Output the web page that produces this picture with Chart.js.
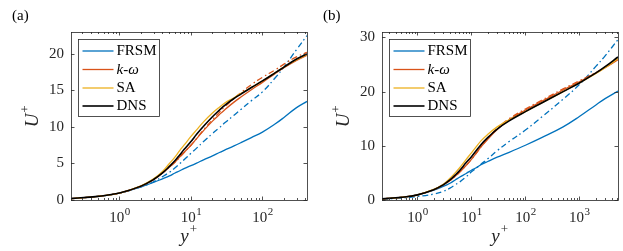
<!DOCTYPE html>
<html>
<head>
<meta charset="utf-8">
<script src="https://cdn.jsdelivr.net/npm/chart.js@4.4.0/dist/chart.umd.min.js"></script>
<style>
    html, body { margin: 0; padding: 0; background: #fff; }
    #wrap { position: relative; width: 623px; height: 251px; }
    .pane { position: absolute; top: 0; width: 312px; height: 251px; }
</style>
</head>
<body>
<div id="wrap">
    <div class="pane" style="left:0"><canvas id="chartA"></canvas></div>
    <div class="pane" style="left:311px"><canvas id="chartB"></canvas></div>
</div>
<script>
// ---- data ----
// panel (a)
const yPlusA = [0.21, 0.5, 1, 2, 3, 4, 5, 6, 7, 8, 10, 12, 15, 20, 25, 30, 40, 50, 70, 100, 150, 200, 300, 420];
const dnsA    = [0.2, 0.5, 0.95, 1.9, 2.8, 3.7, 4.6, 5.4, 6.2, 6.9, 8.0, 9.0, 10.1, 11.4, 12.3, 13.0, 13.9, 14.5, 15.4, 16.3, 17.4, 18.2, 19.3, 20.0];
const saA     = [0.2, 0.5, 0.95, 1.95, 2.9, 3.9, 5.0, 5.9, 6.8, 7.5, 8.7, 9.6, 10.7, 11.9, 12.7, 13.3, 14.0, 14.6, 15.4, 16.3, 17.4, 18.2, 19.2, 19.9];
const kwA     = [0.2, 0.5, 0.95, 1.9, 2.8, 3.7, 4.5, 5.2, 5.9, 6.5, 7.5, 8.4, 9.5, 10.8, 11.7, 12.4, 13.4, 14.1, 15.1, 16.1, 17.3, 18.1, 19.1, 19.8];
const kwDashA = [0.2, 0.5, 0.95, 1.9, 2.8, 3.7, 4.5, 5.2, 5.9, 6.5, 7.5, 8.4, 9.6, 11.0, 12.0, 12.8, 13.9, 14.7, 15.8, 16.8, 17.8, 18.6, 19.6, 20.2];
const frsmA   = [0.2, 0.5, 0.95, 1.8, 2.4, 2.9, 3.3, 3.7, 4.0, 4.3, 4.7, 5.05, 5.5, 6.05, 6.5, 6.85, 7.4, 7.85, 8.55, 9.3, 10.4, 11.3, 12.65, 13.5];
const frsmDashA = [0.2, 0.5, 0.95, 1.8, 2.5, 3.2, 3.8, 4.4, 5.0, 5.5, 6.4, 7.1, 8.0, 9.1, 9.9, 10.6, 11.6, 12.4, 13.6, 14.8, 16.7, 18.2, 20.6, 22.5];
const yTicksA = [0, 5, 10, 15, 20];
const xDecadesA = [0, 1, 2];

// panel (b)
const yPlusB = [0.22, 0.5, 1, 2, 3, 4, 5, 6, 8, 10, 12, 15, 20, 30, 50, 100, 200, 500, 1000, 2000, 3000, 5200];
const dnsB    = [0.2, 0.5, 0.95, 1.9, 2.8, 3.7, 4.6, 5.4, 6.9, 8.0, 9.0, 10.2, 11.5, 13.1, 14.6, 16.3, 17.9, 20.0, 21.6, 23.4, 24.6, 26.4];
const saB     = [0.2, 0.5, 0.95, 1.95, 2.9, 4.0, 5.0, 5.9, 7.5, 8.7, 9.7, 10.9, 12.1, 13.5, 14.8, 16.3, 17.9, 20.0, 21.6, 23.3, 24.4, 26.1];
const kwB     = [0.2, 0.5, 0.95, 1.9, 2.8, 3.6, 4.4, 5.1, 6.4, 7.5, 8.5, 9.8, 11.2, 13.0, 14.8, 16.6, 18.2, 20.3, 21.8, 23.4, 24.4, 25.9];
const kwDashB = [0.2, 0.5, 0.95, 1.9, 2.8, 3.6, 4.4, 5.1, 6.4, 7.5, 8.5, 9.8, 11.3, 13.2, 15.0, 16.8, 18.4, 20.5, 22.0, 23.5, 24.5, 26.0];
const frsmB   = [0.2, 0.5, 0.95, 1.8, 2.5, 3.1, 3.7, 4.2, 4.9, 5.5, 5.9, 6.5, 7.1, 7.9, 8.8, 10.1, 11.5, 13.5, 15.4, 17.5, 18.7, 20.1];
const frsmDashB = [0.15, 0.35, 0.65, 1.1, 1.6, 2.2, 2.8, 3.3, 4.3, 5.2, 5.8, 6.6, 7.6, 9.1, 10.8, 12.9, 15.3, 18.6, 21.3, 24.6, 26.6, 29.6];
const yTicksB = [0, 10, 20, 30];
const xDecadesB = [0, 1, 2, 3];

const legendNames = [
    [{ t: 'FRSM' }],
    [{ t: 'k', i: true }, { t: '-' }, { t: 'ω', i: true }],
    [{ t: 'SA' }],
    [{ t: 'DNS' }]
];

const BLUE = '#0072BD', RED = '#D95319', YELLOW = '#EDB120', BLACK = '#000000';
const AXIS = '#262626';
const SERIF = '"Liberation Serif", "DejaVu Serif", serif';

function pts(xs, ys) { return xs.map((x, i) => ({ x, y: ys[i] })); }

// draw a run of plain / italic text pieces, returns end x
function richText(ctx, parts, x, y, size) {
    parts.forEach(p => {
        ctx.font = (p.i ? 'italic ' : '') + size + 'px ' + SERIF;
        ctx.fillText(p.t, x, y);
        x += ctx.measureText(p.t).width;
    });
    return x;
}

// MATLAB-like box, inward ticks, labels and legend
const matlabAxes = {
    id: 'matlabAxes',
    afterDraw(chart, args, opts) {
        const ctx = chart.ctx;
        const a = chart.chartArea;
        const xs = chart.scales.x, ys = chart.scales.y;
        ctx.save();
        ctx.strokeStyle = AXIS;
        ctx.fillStyle = AXIS;
        ctx.lineWidth = 0.8;

        // x ticks (log, major + minor)
        const lo = Math.floor(Math.log10(xs.min)), hi = Math.ceil(Math.log10(xs.max));
        ctx.beginPath();
        for (let d = lo; d <= hi; d++) {
            for (let m = 1; m <= 9; m++) {
                const v = m * Math.pow(10, d);
                if (v < xs.min || v > xs.max) continue;
                const px = Math.round(xs.getPixelForValue(v)) + 0.5;
                const len = m === 1 ? 3.5 : 2;
                ctx.moveTo(px, a.bottom); ctx.lineTo(px, a.bottom - len);
                ctx.moveTo(px, a.top); ctx.lineTo(px, a.top + len);
            }
        }
        // y ticks
        opts.yTicks.forEach(v => {
            const py = Math.round(ys.getPixelForValue(v)) + 0.5;
            ctx.moveTo(a.left, py); ctx.lineTo(a.left + 3.5, py);
            ctx.moveTo(a.right, py); ctx.lineTo(a.right - 3.5, py);
        });
        ctx.stroke();

        // box
        ctx.strokeRect(Math.round(a.left) + 0.5, Math.round(a.top) + 0.5,
            Math.round(a.right - a.left), Math.round(a.bottom - a.top));

        // x tick labels 10^n
        ctx.textBaseline = 'alphabetic';
        ctx.textAlign = 'left';
        opts.xDecades.forEach(d => {
            const px = xs.getPixelForValue(Math.pow(10, d));
            ctx.font = '15px ' + SERIF;
            const w1 = ctx.measureText('10').width;
            ctx.font = '11px ' + SERIF;
            const w2 = ctx.measureText(String(d)).width;
            const x0 = px - (w1 + w2) / 2;
            ctx.font = '15px ' + SERIF;
            ctx.fillText('10', x0, 222);
            ctx.font = '11px ' + SERIF;
            ctx.fillText(String(d), x0 + w1 + 0.5, 215);
        });

        // x title y+
        ctx.font = 'italic 19px ' + SERIF;
        const wy = ctx.measureText('y').width;
        const cx = (a.left + a.right) / 2;
        ctx.fillText('y', cx - (wy + 9) / 2, 242);
        ctx.font = '13px ' + SERIF;
        ctx.fillText('+', cx - (wy + 9) / 2 + wy + 1, 233);

        // y title U+
        ctx.save();
        ctx.translate(opts.yTitleX, (a.top + a.bottom) / 2);
        ctx.rotate(-Math.PI / 2);
        ctx.font = 'italic 19px ' + SERIF;
        const wu = ctx.measureText('U').width;
        ctx.fillText('U', -(wu + 9) / 2, 0);
        ctx.font = '13px ' + SERIF;
        ctx.fillText('+', -(wu + 9) / 2 + wu + 1, -9);
        ctx.restore();

        // panel label
        ctx.font = '15px ' + SERIF;
        ctx.fillStyle = '#000';
        ctx.fillText(opts.panel, 12, 20);

        // legend
        const bx = Math.round(a.left + 7) + 0.5, by = Math.round(a.top + 7) + 0.5;
        const bw = 81, bh = 77;
        ctx.fillStyle = '#fff';
        ctx.fillRect(bx, by, bw, bh);
        ctx.strokeStyle = AXIS;
        ctx.lineWidth = 0.8;
        ctx.strokeRect(bx, by, bw, bh);
        const rows = [11.5, 30, 48.5, 66.5];
        const colors = [BLUE, RED, YELLOW, BLACK];
        legendNames.forEach((parts, i) => {
            const ry = by + rows[i];
            ctx.strokeStyle = colors[i];
            ctx.lineWidth = i === 3 ? 1.6 : 1.3;
            ctx.beginPath();
            ctx.moveTo(bx + 4, ry); ctx.lineTo(bx + 35, ry);
            ctx.stroke();
            ctx.fillStyle = '#000';
            ctx.textBaseline = 'middle';
            richText(ctx, parts, bx + 38, ry + 0.5, 15);
        });
        ctx.restore();
    }
};

function makePanel(canvasId, xsData, series, xMin, xMax, yMax, yTicks, xDecades, panel) {
    const canvas = document.getElementById(canvasId);
    const line = (data, color, width, order, dash) => ({
        data: pts(xsData, data),
        borderColor: color,
        borderWidth: width,
        borderDash: dash || [],
        pointRadius: 0,
        tension: 0.4,
        fill: false,
        order
    });
    return new Chart(canvas.getContext('2d'), {
        type: 'line',
        data: {
            datasets: [
                line(series.dns, BLACK, 1.6, 0),
                line(series.sa, YELLOW, 1.3, 1),
                line(series.kw, RED, 1.3, 2),
                line(series.kwDash, RED, 1.3, 3, [6, 3, 1.5, 3]),
                line(series.frsm, BLUE, 1.3, 4),
                line(series.frsmDash, BLUE, 1.3, 5, [6, 3, 1.5, 3])
            ]
        },
        options: {
            responsive: true,
            maintainAspectRatio: false,
            animation: false,
            devicePixelRatio: 1,
            layout: { padding: { left: 0, right: 5, top: 32, bottom: 0 } },
            scales: {
                x: {
                    type: 'logarithmic',
                    min: xMin,
                    max: xMax,
                    grid: { display: false },
                    border: { display: false },
                    ticks: { display: false },
                    afterFit: s => { s.height = 51; }
                },
                y: {
                    min: 0,
                    max: yMax,
                    grid: { display: false, drawTicks: false },
                    border: { display: false },
                    afterBuildTicks: s => { s.ticks = yTicks.map(v => ({ value: v })); },
                    ticks: {
                        padding: 7,
                        color: AXIS,
                        font: { family: SERIF, size: 15 }
                    },
                    afterFit: s => { s.width = 71; }
                }
            },
            plugins: {
                legend: { display: false },
                tooltip: { enabled: false },
                matlabAxes: { yTicks, xDecades, panel, yTitleX: 38 }
            }
        },
        plugins: [matlabAxes]
    });
}

makePanel('chartA', yPlusA,
    { dns: dnsA, sa: saA, kw: kwA, kwDash: kwDashA, frsm: frsmA, frsmDash: frsmDashA },
    0.21, 420, 23, yTicksA, xDecadesA, '(a)');
makePanel('chartB', yPlusB,
    { dns: dnsB, sa: saB, kw: kwB, kwDash: kwDashB, frsm: frsmB, frsmDash: frsmDashB },
    0.22, 5200, 31, yTicksB, xDecadesB, '(b)');
</script>
</body>
</html>
